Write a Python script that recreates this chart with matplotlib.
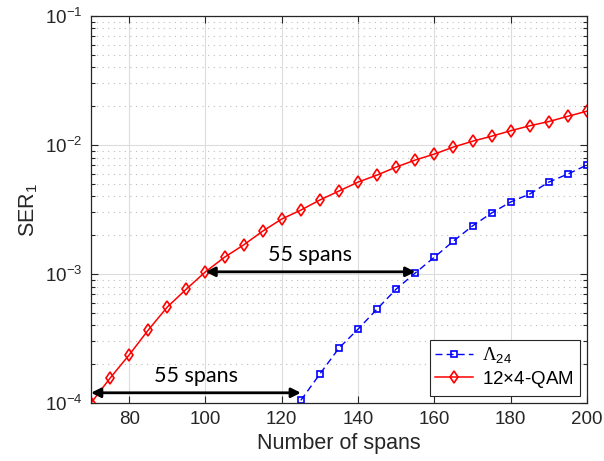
import matplotlib

matplotlib.use("Agg")

import matplotlib.pyplot as plt
from matplotlib.ticker import LogLocator, NullFormatter, FixedLocator

# values
QAM_SPANS = [70, 75, 80, 85, 90, 95, 100, 105, 110, 115, 120, 125, 130, 135,
             140, 145, 150, 155, 160, 165, 170, 175, 180, 185, 190, 195, 200]
QAM_SER = [1.0e-4, 1.56e-4, 2.36e-4, 3.68e-4, 5.55e-4, 7.65e-4, 1.04e-3,
           1.35e-3, 1.68e-3, 2.15e-3, 2.67e-3, 3.13e-3, 3.75e-3, 4.40e-3,
           5.16e-3, 5.85e-3, 6.75e-3, 7.65e-3, 8.51e-3, 9.64e-3, 1.07e-2,
           1.17e-2, 1.29e-2, 1.41e-2, 1.52e-2, 1.67e-2, 1.83e-2]

LATTICE_SPANS = [125, 130, 135, 140, 145, 150, 155, 160, 165, 170, 175, 180,
                 185, 190, 195, 200]
LATTICE_SER = [1.05e-4, 1.68e-4, 2.67e-4, 3.74e-4, 5.36e-4, 7.65e-4, 1.02e-3,
               1.35e-3, 1.80e-3, 2.36e-3, 2.97e-3, 3.62e-3, 4.17e-3, 5.16e-3,
               5.96e-3, 7.00e-3]

X_TICKS = [80, 100, 120, 140, 160, 180, 200]

# (x_start, x_end, y, label) for the two "55 spans" gaps
GAPS = [(100, 155, 1.04e-3, "55 spans"), (70, 125, 1.2e-4, "55 spans")]

AXIS_COLOR = "#262626"

plt.rcParams["font.family"] = ["Liberation Sans", "DejaVu Sans"]
plt.rcParams["mathtext.fontset"] = "custom"
plt.rcParams["mathtext.rm"] = "Liberation Sans"
plt.rcParams["mathtext.it"] = "Liberation Sans:italic"
plt.rcParams["mathtext.cal"] = "Liberation Serif"


def main() -> None:
    fig = plt.figure(figsize=(6.04, 4.61), dpi=100)
    ax = fig.add_axes([0.1507, 0.1258, 0.8212, 0.8395])

    ax.plot(LATTICE_SPANS, LATTICE_SER, color="#0000ff", ls=(0, (5, 3)), lw=1.0,
            marker="s", ms=5, mfc="none", mew=1.2, label=r"$\mathcal{\Lambda}_{24}$")
    ax.plot(QAM_SPANS, QAM_SER, color="#ff0000", ls="-", lw=1.1,
            marker="d", ms=6.5, mfc="none", mew=1.2, label=r"12$\times$4-QAM")

    for x0, x1, y, label in GAPS:
        ax.annotate("", xy=(x1, y), xytext=(x0, y),
                    arrowprops=dict(arrowstyle="<|-|>", color="black", lw=2,
                                    mutation_scale=14, shrinkA=0, shrinkB=0))
        ax.text((x0 + x1) / 2, y * 1.12, label, ha="center", va="bottom",
                fontsize=15.5, family="Lato", color="black")

    ax.set_yscale("log")
    ax.set_xlim(70, 200)
    ax.set_ylim(1e-4, 1e-1)
    ax.xaxis.set_major_locator(FixedLocator(X_TICKS))
    ax.yaxis.set_minor_locator(LogLocator(base=10, subs=range(2, 10), numticks=20))
    ax.yaxis.set_minor_formatter(NullFormatter())

    ax.grid(True, which="major", color="#dcdcdc", lw=0.8, ls="-")
    ax.grid(True, which="minor", axis="y", color="#bdbdbd", lw=0.8, ls=(0, (1, 4)))
    ax.set_axisbelow(True)

    ax.tick_params(which="both", direction="in", top=True, right=True,
                   colors=AXIS_COLOR, labelsize=13.5, width=0.8)
    ax.tick_params(which="major", length=5, pad=6)
    ax.tick_params(which="minor", length=3)
    for spine in ax.spines.values():
        spine.set_color(AXIS_COLOR)
        spine.set_linewidth(0.9)

    ax.set_xlabel("Number of spans", fontsize=15.5, color=AXIS_COLOR, labelpad=3)
    ax.set_ylabel(r"SER$_1$", fontsize=15.5, color=AXIS_COLOR, labelpad=4)

    leg = ax.legend(loc="lower right", fontsize=13.5, fancybox=False, framealpha=1,
                    edgecolor=AXIS_COLOR, handlelength=2.0, borderpad=0.3,
                    labelspacing=0.2, handletextpad=0.5, borderaxespad=0.4)
    leg.get_frame().set_linewidth(0.8)

    fig.savefig("out.png", dpi=100)
    plt.close(fig)


if __name__ == "__main__":
    main()
